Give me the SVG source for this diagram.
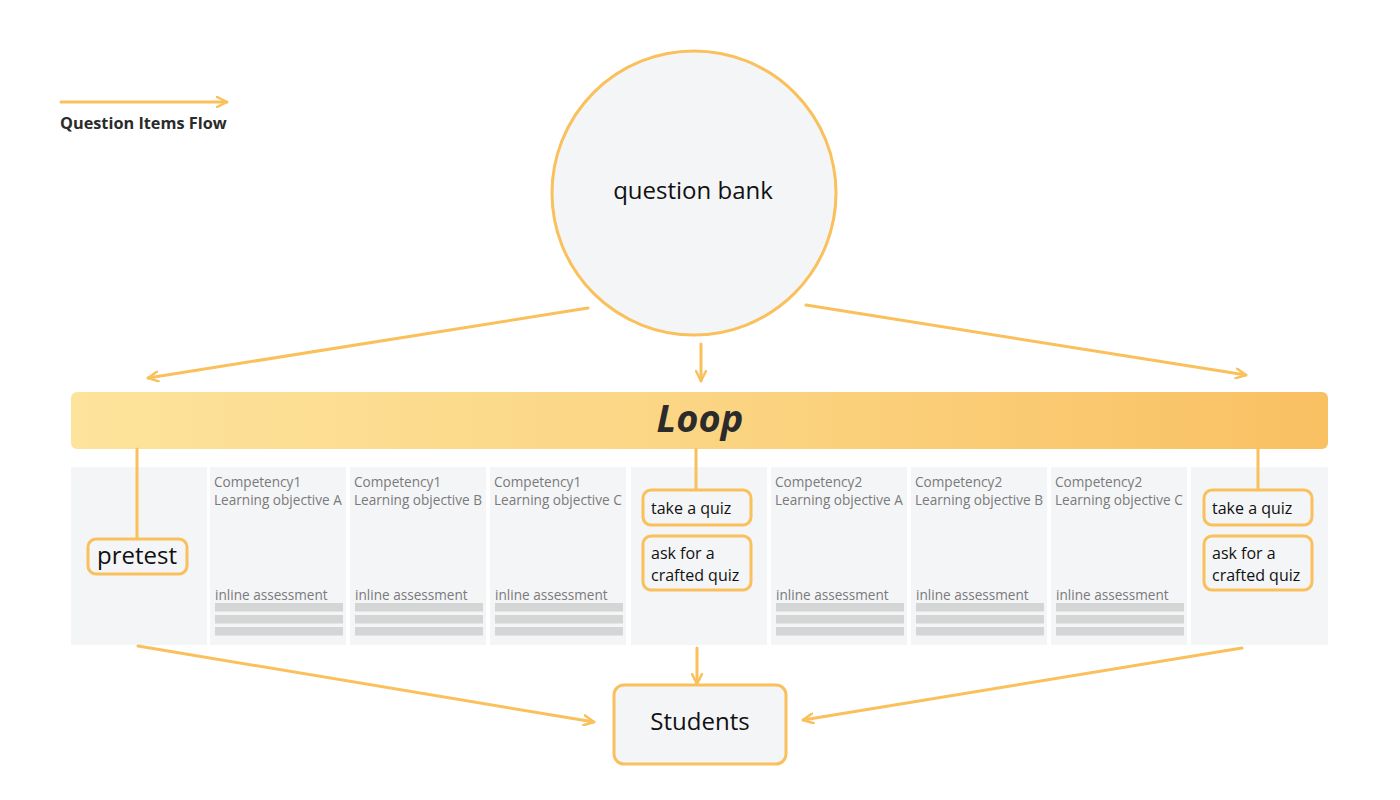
<svg xmlns="http://www.w3.org/2000/svg" width="1400" height="800" viewBox="0 0 1400 800">
<defs>
<linearGradient id="loopg" x1="0" y1="0" x2="1" y2="0">
<stop offset="0" stop-color="#fde39c"/>
<stop offset="0.5" stop-color="#fbd583"/>
<stop offset="1" stop-color="#f9c062"/>
</linearGradient>
<marker id="ah" viewBox="0 0 12 12" refX="11" refY="6" markerWidth="12" markerHeight="12" markerUnits="userSpaceOnUse" orient="auto">
<path d="M1,1 L11,6 L1,11" fill="none" stroke="#f9c05c" stroke-width="2.5" stroke-linecap="round" stroke-linejoin="round"/>
</marker>
<style>
.ln{stroke:#f9c05c;stroke-width:3;fill:none;stroke-linecap:round}
.arr{stroke:#f9c05c;stroke-width:3;fill:none;stroke-linecap:round;marker-end:url(#ah)}
.col{fill:#f4f5f7}
.bar{fill:#d4d5d5}
.box{fill:#f4f5f7;stroke:#f9c05c;stroke-width:3}
.t{font-family:"Open Sans","Noto Sans","Liberation Sans",sans-serif}
.gray{font-size:13.6px;fill:#7a7a7a}
.blk{fill:#111}
</style>
</defs>
<rect width="1400" height="800" fill="#ffffff"/>

<g id="legend">
<line class="arr" x1="61" y1="102" x2="227" y2="102"/>
<text class="t" x="60" y="129" font-size="16.3" font-weight="bold" fill="#2b2b2b">Question Items Flow</text>
</g>

<g id="question-bank">
<circle cx="694" cy="193" r="142" fill="#f4f5f7" stroke="#f9c05c" stroke-width="3"/>
<text class="t blk" x="693" y="199" font-size="24" text-anchor="middle">question bank</text>
</g>

<g id="loop">
<rect x="71" y="392" width="1257" height="57" rx="6" fill="url(#loopg)"/>
<text class="t" x="700" y="432" font-size="38" font-weight="bold" font-style="italic" fill="#2b2b2b" text-anchor="middle">Loop</text>
</g>

<g id="columns">
<rect class="col" x="71" y="467" width="136" height="178"/>
<g id="c1a">
<rect class="col" x="210" y="467" width="136" height="178"/>
<text class="t gray" x="214" y="487">Competency1</text>
<text class="t gray" x="214" y="505">Learning objective A</text>
<text class="t gray" x="215" y="600">inline assessment</text>
<rect class="bar" x="215" y="603" width="128" height="8.5"/>
<rect class="bar" x="215" y="615" width="128" height="8.5"/>
<rect class="bar" x="215" y="627" width="128" height="8.5"/>
</g>
<g id="c1b">
<rect class="col" x="350" y="467" width="136" height="178"/>
<text class="t gray" x="354" y="487">Competency1</text>
<text class="t gray" x="354" y="505">Learning objective B</text>
<text class="t gray" x="355" y="600">inline assessment</text>
<rect class="bar" x="355" y="603" width="128" height="8.5"/>
<rect class="bar" x="355" y="615" width="128" height="8.5"/>
<rect class="bar" x="355" y="627" width="128" height="8.5"/>
</g>
<g id="c1c">
<rect class="col" x="490" y="467" width="136" height="178"/>
<text class="t gray" x="494" y="487">Competency1</text>
<text class="t gray" x="494" y="505">Learning objective C</text>
<text class="t gray" x="495" y="600">inline assessment</text>
<rect class="bar" x="495" y="603" width="128" height="8.5"/>
<rect class="bar" x="495" y="615" width="128" height="8.5"/>
<rect class="bar" x="495" y="627" width="128" height="8.5"/>
</g>
<rect class="col" x="631" y="467" width="136" height="178"/>
<g id="c2a">
<rect class="col" x="771" y="467" width="136" height="178"/>
<text class="t gray" x="775" y="487">Competency2</text>
<text class="t gray" x="775" y="505">Learning objective A</text>
<text class="t gray" x="776" y="600">inline assessment</text>
<rect class="bar" x="776" y="603" width="128" height="8.5"/>
<rect class="bar" x="776" y="615" width="128" height="8.5"/>
<rect class="bar" x="776" y="627" width="128" height="8.5"/>
</g>
<g id="c2b">
<rect class="col" x="911" y="467" width="136" height="178"/>
<text class="t gray" x="915" y="487">Competency2</text>
<text class="t gray" x="915" y="505">Learning objective B</text>
<text class="t gray" x="916" y="600">inline assessment</text>
<rect class="bar" x="916" y="603" width="128" height="8.5"/>
<rect class="bar" x="916" y="615" width="128" height="8.5"/>
<rect class="bar" x="916" y="627" width="128" height="8.5"/>
</g>
<g id="c2c">
<rect class="col" x="1051" y="467" width="136" height="178"/>
<text class="t gray" x="1055" y="487">Competency2</text>
<text class="t gray" x="1055" y="505">Learning objective C</text>
<text class="t gray" x="1056" y="600">inline assessment</text>
<rect class="bar" x="1056" y="603" width="128" height="8.5"/>
<rect class="bar" x="1056" y="615" width="128" height="8.5"/>
<rect class="bar" x="1056" y="627" width="128" height="8.5"/>
</g>
<rect class="col" x="1191" y="467" width="137" height="178"/>
</g>

<g id="connectors">
<line class="arr" x1="588" y1="308" x2="148" y2="378"/>
<line class="arr" x1="701" y1="344" x2="701" y2="381"/>
<line class="arr" x1="806" y1="305" x2="1246" y2="375"/>
<line class="ln" x1="137" y1="449" x2="137" y2="539"/>
<line class="ln" x1="696" y1="449" x2="696" y2="490"/>
<line class="ln" x1="1258" y1="449" x2="1258" y2="490"/>
<line class="arr" x1="138" y1="646" x2="594" y2="722"/>
<line class="arr" x1="697" y1="648" x2="697" y2="684"/>
<line class="arr" x1="1242" y1="648" x2="803" y2="720"/>
</g>

<g id="pretest">
<rect class="box" x="88" y="539" width="99" height="35" rx="8"/>
<text class="t blk" x="137" y="564" font-size="24" text-anchor="middle">pretest</text>
</g>

<g id="take-quiz-1">
<rect class="box" x="643" y="490" width="108" height="35" rx="8"/>
<text class="t blk" x="651" y="514" font-size="16">take a quiz</text>
</g>
<g id="crafted-quiz-1">
<rect class="box" x="643" y="536" width="108" height="54" rx="8"/>
<text class="t blk" x="651" y="559" font-size="16">ask for a</text>
<text class="t blk" x="651" y="581" font-size="16">crafted quiz</text>
</g>

<g id="take-quiz-2">
<rect class="box" x="1204" y="490" width="108" height="35" rx="8"/>
<text class="t blk" x="1212" y="514" font-size="16">take a quiz</text>
</g>
<g id="crafted-quiz-2">
<rect class="box" x="1204" y="536" width="108" height="54" rx="8"/>
<text class="t blk" x="1212" y="559" font-size="16">ask for a</text>
<text class="t blk" x="1212" y="581" font-size="16">crafted quiz</text>
</g>

<g id="students">
<rect class="box" x="614" y="685" width="172" height="79" rx="10"/>
<text class="t blk" x="700" y="730" font-size="24" text-anchor="middle">Students</text>
</g>
</svg>
